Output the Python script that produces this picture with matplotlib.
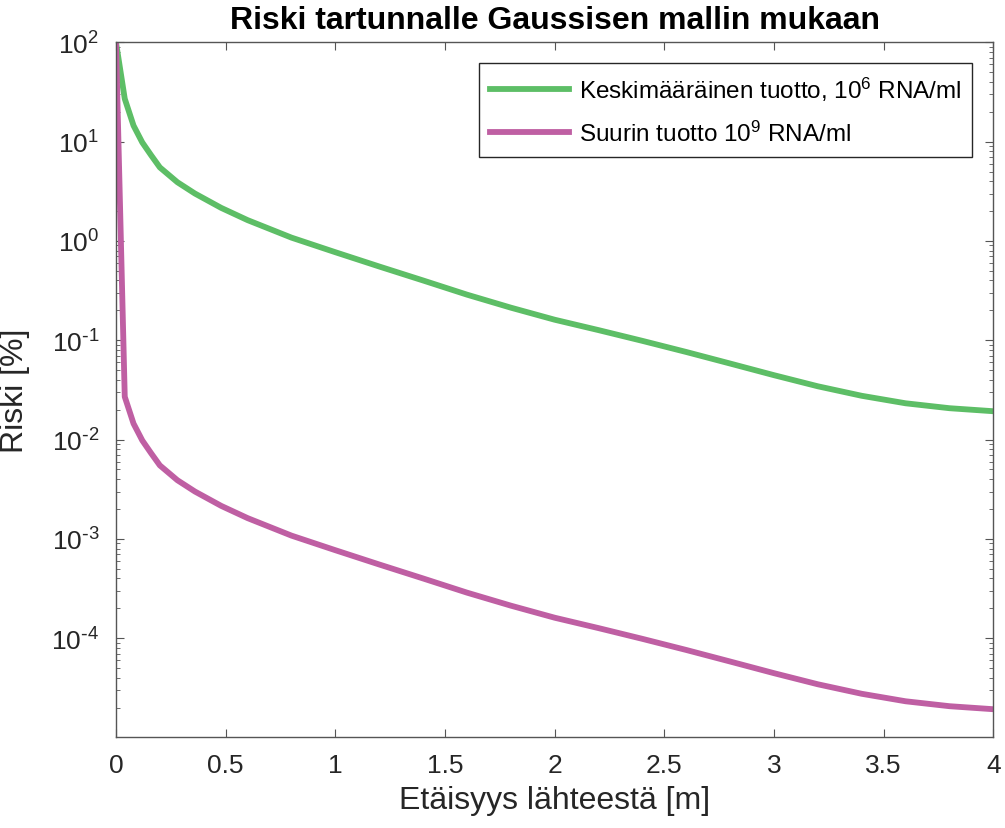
import matplotlib
matplotlib.use("Agg")
import matplotlib.pyplot as plt
from matplotlib.ticker import LogLocator, NullFormatter, FuncFormatter
import numpy as np

plt.rcParams['font.family'] = ['Liberation Sans', 'DejaVu Sans']
plt.rcParams['mathtext.default'] = 'regular'
plt.rcParams['axes.unicode_minus'] = False

# etäisyys lähteestä [m]
etaisyys = [0, 0.04, 0.08, 0.12, 0.16, 0.2, 0.28, 0.36, 0.48, 0.6, 0.8, 1.0,
            1.2, 1.4, 1.6, 1.8, 2.0, 2.2, 2.4, 2.6, 2.8, 3.0, 3.2, 3.4,
            3.6, 3.8, 4.0]
# riski [%], keskimääräinen tuotto
riski_keski = [100, 27, 14.5, 9.8, 7.3, 5.5, 3.9, 3.0, 2.15, 1.62, 1.08, 0.77,
               0.553, 0.40, 0.288, 0.213, 0.161, 0.1265, 0.0986, 0.0762,
               0.0583, 0.0445, 0.0344, 0.0276, 0.0232, 0.0207, 0.0193]
# riski [%], suurin tuotto
riski_suurin = [100, 0.027, 0.0145, 0.0098, 0.0073, 0.0055, 0.0039, 0.0030,
                0.00215, 0.00162, 0.00108, 0.00077, 0.000553, 0.00040,
                0.000288, 0.000213, 0.000161, 0.0001265, 9.86e-5, 7.62e-5,
                5.83e-5, 4.45e-5, 3.44e-5, 2.76e-5, 2.32e-5, 2.07e-5, 1.93e-5]


def eksponentti(v, pos):
    # 10^n, lyhyt tavuviiva miinusmerkkinä kuten alkuperäisessä
    n = int(round(np.log10(v)))
    s = str(n).replace('-', r'\text{-}')
    return '$10^{' + s + '}$'


fig = plt.figure(figsize=(10.05, 8.29), dpi=100)
ax = fig.add_axes([0.1154, 0.1101, 0.9884 - 0.1154, 0.9478 - 0.1101])

ax.plot(etaisyys, riski_keski, color='#5DBE66', lw=4.2, solid_joinstyle='round',
        label='Keskimääräinen tuotto, $10^6$ RNA/ml')
ax.plot(etaisyys, riski_suurin, color='#BF5FA3', lw=4.2, solid_joinstyle='round',
        label='Suurin tuotto $10^9$ RNA/ml')

ax.set_yscale('log')
ax.set_xlim(0, 4)
ax.set_ylim(1.02e-5, 100)
ax.set_xticks([0, 0.5, 1, 1.5, 2, 2.5, 3, 3.5, 4])
ax.set_xticklabels(['0', '0.5', '1', '1.5', '2', '2.5', '3', '3.5', '4'])
ax.yaxis.set_major_locator(LogLocator(base=10, numticks=20))
ax.yaxis.set_major_formatter(FuncFormatter(eksponentti))
ax.yaxis.set_minor_locator(LogLocator(base=10, subs=range(2, 10), numticks=20))
ax.yaxis.set_minor_formatter(NullFormatter())

for s in ax.spines.values():
    s.set_color('#555555')
    s.set_linewidth(1.0)
ax.tick_params(which='both', direction='in', top=True, right=True,
               colors='#555555', labelcolor='#262626', labelsize=19)
ax.tick_params(which='major', length=6, pad=12)
ax.tick_params(which='minor', length=3)

ax.set_xlabel('Etäisyys lähteestä [m]', fontsize=23, color='#262626')
ax.set_ylabel('Riski [%]', fontsize=23, color='#262626')
ax.xaxis.set_label_coords(0.5, -0.07)
ax.yaxis.set_label_coords(-0.098, 0.5)
ax.set_title('Riski tartunnalle Gaussisen mallin mukaan', fontsize=23,
             fontweight='bold', pad=10)

leg = ax.legend(loc='upper right', fontsize=17.5, fancybox=False, framealpha=1,
                edgecolor='#262626', handlelength=3.25, handletextpad=0.4,
                borderaxespad=0.87, borderpad=0.45, labelspacing=0.75)
leg.get_frame().set_linewidth(1.0)

plt.savefig('out.png', dpi=100)
